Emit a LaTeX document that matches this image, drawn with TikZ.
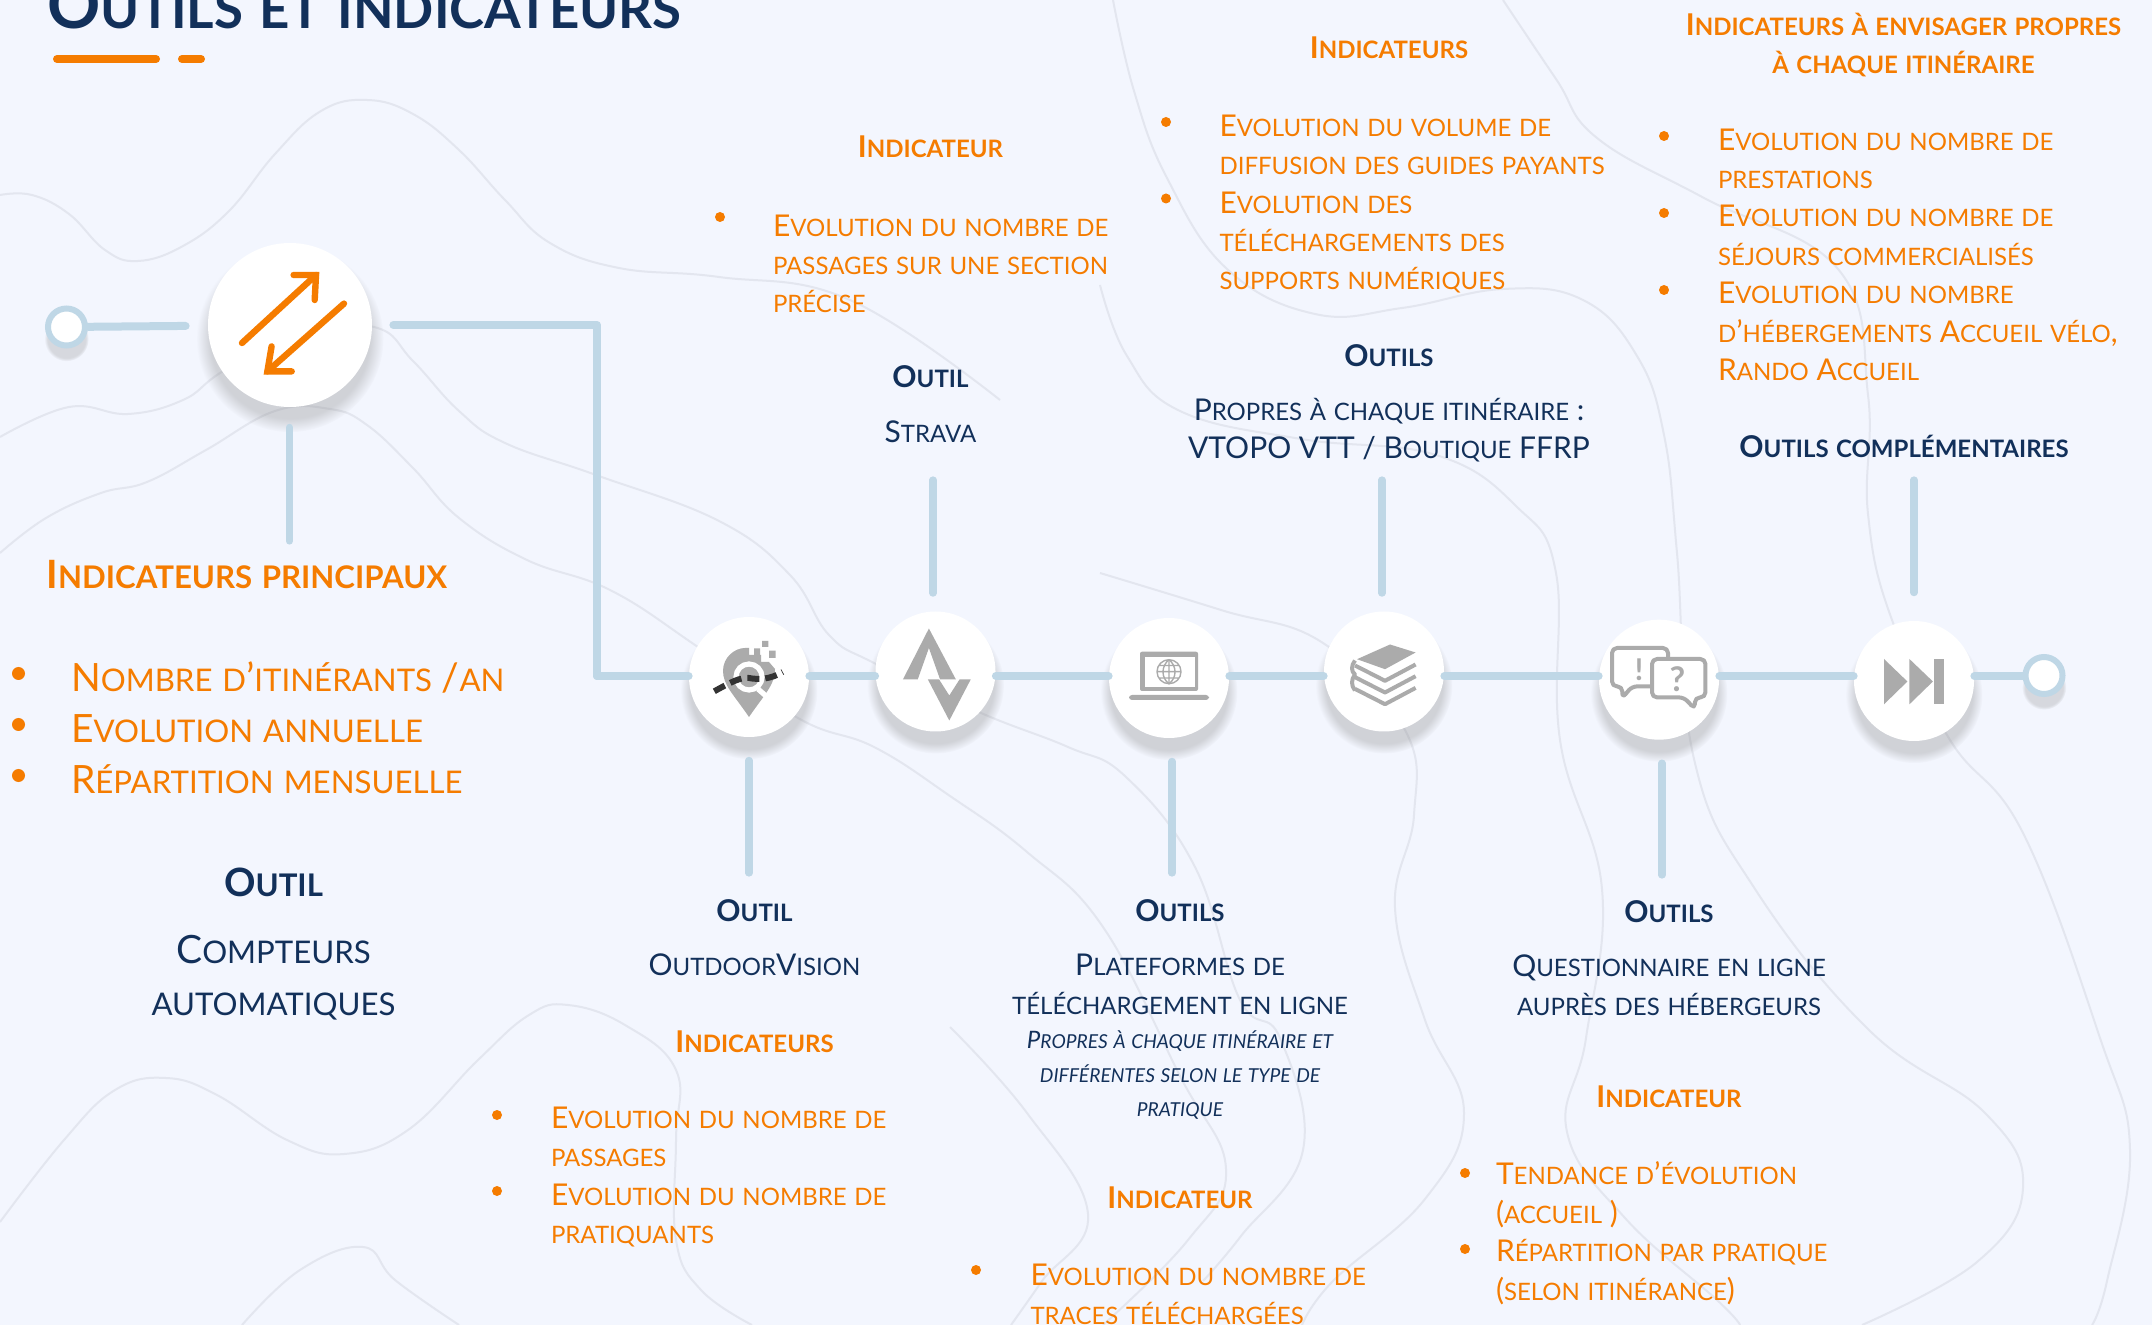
\documentclass[tikz,border=0pt]{standalone}
\usepackage{fontspec}
\setmainfont{Lato}
\usetikzlibrary{shadows}
\definecolor{paper}{HTML}{F3F6FE}
\definecolor{contour}{HTML}{E3E6EF}
\definecolor{tubeblue}{HTML}{BFD7E6}
\definecolor{accent}{HTML}{F57C00}
\definecolor{navy}{HTML}{12305A}
\definecolor{icongray}{HTML}{ABABAB}
\makeatletter
\newcommand\lowsc[1]{{\fontsize{\strip@pt\dimexpr.8\dimexpr\f@size pt\relax\relax}{\f@baselineskip}\selectfont\MakeUppercase{#1}}}
\makeatother
\ExplSyntaxOn
\NewDocumentCommand\smc{m}{
  \tl_set:Nn \l_tmpa_tl {#1}
  \regex_replace_all:nnN {([a-zàâéèêîôûç]+)} {\c{lowsc}\cB\{\1\cE\}} \l_tmpa_tl
  \tl_use:N \l_tmpa_tl
}
\ExplSyntaxOff
\tikzset{
  tube/.style={line width=4pt,tubeblue,line cap=round,line join=round},
  stub/.style={tube,line width=3.6pt},
  relief/.style={contour,line width=1pt,smooth,tension=.7},
  disc/.style={circle,fill=white,inner sep=0,minimum size=60pt,
    circular drop shadow={shadow xshift=0pt,shadow yshift=-6pt,shadow scale=1.14,opacity=.3}},
  ring/.style={circle,fill=white,draw=tubeblue,line width=3pt,inner sep=0,minimum size=18.5pt,
    circular drop shadow={shadow xshift=0pt,shadow yshift=-5pt,shadow scale=1.2,opacity=.25}},
  dot/.style={circle,fill=accent,inner sep=0,minimum size=5pt},
  bigdot/.style={dot,minimum size=6.5pt},
  txt/.style={inner sep=0,outer sep=0},
  list/.style={txt,anchor=base west,align=left,accent,font=\fontsize{15}{19.2}\selectfont},
  bigtitle/.style={txt,anchor=base west,align=left,accent,font=\bfseries\fontsize{19.5}{25.5}\selectfont},
  indic/.style={txt,anchor=base,align=center,accent,font=\bfseries\fontsize{15}{19.2}\selectfont},
  toolhead/.style={txt,anchor=base,align=center,navy,font=\bfseries\fontsize{15}{19.2}\selectfont},
  tooltext/.style={txt,anchor=base,align=center,navy,font=\fontsize{15}{19.2}\selectfont},
  iconfill/.style={fill=icongray,draw=none},
  iconline/.style={draw=icongray,line width=1.5pt,line join=round},
}
\begin{document}
\begin{tikzpicture}[x=0.5pt,y=-0.5pt]
  \fill[paper] (0,0) rectangle (2152,1325);
  \useasboundingbox (0,0) rectangle (2152,1325);
  % relief lines
  \draw[relief] plot coordinates {(0,195) (32,195) (69,214) (105,250) (138,261) (183,246) (229,211) (275,154) (321,111) (367,100) (413,114) (459,150) (505,200) (550,243) (619,268) (719,277) (850,300) (1000,400)};
  \draw[relief] plot coordinates {(0,437) (69,407) (128,414) (183,400) (220,373) (290,330) (374,327) (413,361) (459,411) (505,443) (596,475) (719,521) (790,575) (829,635) (874,663) (981,713) (1068,747) (1126,777) (1195,867) (1240,1000) (1280,1038) (1303,1150) (1241,1236) (1203,1281)};
  \draw[relief] plot coordinates {(0,553) (46,518) (101,493) (147,482) (206,450) (275,411) (330,409) (367,425) (413,468) (459,518) (527,560) (610,590) (695,645) (798,718) (874,747) (950,796) (1027,852) (1103,927) (1180,1076) (1226,1169) (1188,1240) (1103,1325)};
  \draw[relief] plot coordinates {(0,1222) (64,1140) (115,1090) (166,1078) (217,1095) (287,1140) (344,1154) (408,1130) (478,1060) (529,1015) (568,1005) (625,1025) (676,1070) (676,1140) (676,1240) (701,1290) (752,1325)};
  \draw[relief] plot coordinates {(242,1325) (300,1270) (363,1247) (395,1280) (459,1325)};
  \draw[relief] plot coordinates {(1100,573) (1221,610) (1323,643) (1405,730) (1414,815) (1395,908) (1425,1020) (1464,1113) (1425,1199) (1333,1281) (1302,1325)};
  \draw[relief] plot coordinates {(1100,285) (1127,356) (1180,411) (1301,439) (1436,455) (1516,506) (1556,573) (1560,740) (1602,889) (1586,1038) (1567,1132) (1625,1218) (1717,1300) (1740,1325)};
  \draw[relief] plot coordinates {(1113,0) (1134,91) (1167,178) (1227,269) (1315,314) (1402,308) (1503,289) (1583,300) (1637,356) (1664,435) (1677,553) (1694,759) (1755,889) (1870,1031) (1985,1113) (2023,1188) (1977,1262) (1862,1325)};
  \draw[relief] plot coordinates {(1503,0) (1556,79) (1597,138) (1704,198) (1838,269) (1868,395) (1868,514) (1892,620) (1950,740) (2023,833) (2100,1038) (2130,1150) (2107,1281) (2092,1325)};
  \draw[relief] plot coordinates {(950,1027) (1027,1113) (1088,1214) (1042,1281) (1011,1325)};
  % title
  \node[txt,anchor=base west,navy,font=\bfseries\fontsize{33}{33}\selectfont] (title) at (47,29) {\smc{Outils et indicateurs}};
  \coordinate (barA) at (57,59); \coordinate (barB) at (156,59);
  \coordinate (barC) at (182,59); \coordinate (barD) at (201,59);
  \draw[accent,line width=4pt,line cap=round] (barA) -- (barB) (barC) -- (barD);
  % anchors of the connectors
  \coordinate (elbow) at (597,676);
  \coordinate (hubend) at (289.5,541);
  \coordinate (poiend) at (749,873);
  \coordinate (stravaend) at (933,480);
  \coordinate (laptopend) at (1172,873);
  \coordinate (booksend) at (1382,480);
  \coordinate (chatend) at (1662,875);
  \coordinate (nextend) at (1914,480);
  % stations
  \node[ring] (startdot) at (66.5,327) {};
  \node[disc,minimum size=82pt] (hub) at (290,325) {};
  \node[disc] (poi) at (749,677) {};
  \node[disc] (strava) at (935.5,671.5) {};
  \node[disc] (laptop) at (1169,678) {};
  \node[disc] (books) at (1384,671.5) {};
  \node[disc] (chat) at (1659,679.7) {};
  \node[disc] (nextbtn) at (1914,681) {};
  \node[ring] (enddot) at (2044,675.5) {};
  % connectors
  \begin{scope}[on background layer/.style={}]
  \draw[tube,shorten >=11pt] (startdot) -- (hub);
  \draw[tube,shorten <=10.5pt] (hub) -| (elbow);
  \draw[stub,shorten >=10pt] (hubend) -- (hubend |- hub.south);
  \draw[stub,shorten >=11.5pt] (poiend) -- (poiend |- poi.south);
  \draw[stub,shorten >=9pt] (stravaend) -- (stravaend |- strava.north);
  \draw[stub,shorten >=11.5pt] (laptopend) -- (laptopend |- laptop.south);
  \draw[stub,shorten >=9pt] (booksend) -- (booksend |- books.north);
  \draw[stub,shorten >=11.5pt] (chatend) -- (chatend |- chat.south);
  \draw[stub,shorten >=14pt] (nextend) -- (nextend |- nextbtn.north);
  \draw[tube] (elbow) -- (poi.west |- elbow);
  \draw[tube] (poi.east |- elbow) -- (strava.west |- elbow);
  \draw[tube] (strava.east |- elbow) -- (laptop.west |- elbow);
  \draw[tube] (laptop.east |- elbow) -- (books.west |- elbow);
  \draw[tube] (books.east |- elbow) -- (chat.west |- elbow);
  \draw[tube] (chat.east |- elbow) -- (nextbtn.west |- elbow);
  \draw[tube] (nextbtn.east |- elbow) -- (enddot.west |- elbow);
  \end{scope}
  % hub arrows
  \begin{scope}[shift={(hub)},accent,line width=3.2pt,line cap=round,line join=miter]
    \draw (-48,18) -- (26,-50);
    \draw (3.6,-50) -- (26,-50) -- (24.7,-25);
    \draw (54,-21.4) -- (-22.6,46.4);
    \draw (-18.4,21.4) -- (-22.6,46.4) -- (1.7,46.4);
  \end{scope}
  % location pin
  \begin{scope}[shift={(poi)}]
    \fill[icongray] (0,40) .. controls (-15,18) and (-26,8) .. (-26,-6) .. controls (-26,-20) and (-14,-29) .. (-4,-29) -- (0,-29) -- (0,-22) -- (12,-22) -- (12,-15) -- (20,-15) -- (26,-8) .. controls (26,8) and (15,18) .. (0,40) -- cycle;
    \fill[icongray] (13,-36) rectangle (19.4,-30) (5,-28.7) rectangle (11,-22) (20,-26.3) rectangle (26.5,-19);
    \draw[white,line width=2.6pt,fill=icongray] (0,0) circle (13);
    \draw[white,line width=2.6pt] (9,12) -- (18.5,20.3);
    \draw[black!80,line width=3pt,dash pattern=on 6pt off 3pt] (-34.7,14.3) .. controls (-18,5) and (-8,0) .. (0,1) .. controls (10,3) and (22,2) .. (33.7,-5);
  \end{scope}
  % strava logo
  \begin{scope}[shift={(strava)}]
    \fill[icongray] (-32.6,8) -- (-6.6,-43) -- (20.4,8) -- (4.6,8) -- (-6.6,-23.5) -- (-17.8,8) -- cycle;
    \fill[icongray] (-7.6,8) -- (3.6,8) -- (13.8,24) -- (24,8) -- (35.2,8) -- (13.8,49) -- cycle;
  \end{scope}
  % laptop
  \begin{scope}[shift={(laptop)}]
    \fill[icongray,rounded corners=1pt] (-29,-26.3) rectangle (29,13);
    \fill[white] (-24.5,-21.3) rectangle (25.5,8.7);
    \fill[icongray,rounded corners=1.5pt] (-40,17) -- (40,17) -- (40,22) -- (-40,22) -- cycle;
    \draw[icongray,line width=.7pt] (0,-6.3) circle (12) (0,-18.3) -- (0,5.7) (-12,-6.3) -- (12,-6.3) (-10,-12.5) -- (10,-12.5) (-10,0) -- (10,0);
    \draw[icongray,line width=.7pt] (0,-18.3) .. controls (-8,-12) and (-8,0) .. (0,5.7) .. controls (8,0) and (8,-12) .. (0,-18.3);
  \end{scope}
  % books
  \begin{scope}[shift={(books)}]
    \foreach \dy in {0,11.7,23.4}
      \draw[iconline,line width=2pt] (-29,-6+\dy) -- (1,9.3+\dy) -- (31.6,-7+\dy);
    \draw[iconline,line width=2pt] (-29,-11) .. controls (-33,-6) and (-33,0) .. (-29,3) .. controls (-33,8) and (-33,14) .. (-29,19);
    \fill[icongray] (6,-27) -- (31.6,-19) -- (1,-2.3) -- (-27,-12.3) -- cycle;
  \end{scope}
  % speech bubbles
  \begin{scope}[shift={(chat)}]
    \draw[iconline,line width=2pt,rounded corners=2.5pt,fill=white] (-47,-31.7) -- (9,-31.7) -- (9,6.7) -- (-27,6.7) -- (-36.7,18.3) -- (-36.7,6.7) -- (-47,6.7) -- cycle;
    \draw[iconline,line width=2pt,rounded corners=2.5pt,fill=white] (-7,-20.7) -- (46.4,-20.7) -- (46.4,17.7) -- (36,17.7) -- (35.7,29.3) -- (25,17.7) -- (-7,17.7) -- cycle;
    \node[txt,icongray,font=\bfseries\fontsize{15}{15}\selectfont] (bang) at (-20,-10) {!};
    \node[txt,icongray,font=\bfseries\fontsize{17}{17}\selectfont] (quest) at (18.4,-1) {?};
  \end{scope}
  % skip button
  \begin{scope}[shift={(nextbtn)}]
    \fill[icongray] (-30,-22) -- (-6.6,0.5) -- (-30,23.3) -- cycle;
    \fill[icongray] (-4.6,-22) -- (18.9,0.5) -- (-4.6,23.3) -- cycle;
    \fill[icongray] (20.4,-22) rectangle (30,23.3);
  \end{scope}
  % bullets
  \foreach \p [count=\i] in {(18.5,673.5),(18.5,724.5),(18.5,775.5)}
    \node[bigdot] (main\i) at \p {};
  \foreach \p [count=\i] in {(497,1115),(497,1191),(720,217),(976,1270),(1166,122),(1166,198.5),(1465,1173),(1465,1249),(1664,136),(1664,213),(1664,290)}
    \node[dot] (item\i) at \p {};
  % left column
  \node[bigtitle] (mainhead) at (46.5,588.5) {\smc{Indicateurs principaux}};
  \node[list,font=\fontsize{19.5}{25.5}\selectfont] (mainlist) at (71,793.5) {\smc{Nombre d’itinérants /an}\\\smc{Evolution annuelle}\\\smc{Répartition mensuelle}};
  \node[toolhead,font=\bfseries\fontsize{19.5}{25.5}\selectfont] (mainhead2) at (273.5,896) {\smc{Outil}};
  \node[tooltext,font=\fontsize{19.5}{26}\selectfont] (counters) at (273.5,1015) {\smc{Compteurs}\\\smc{automatiques}};
  % below the line
  \node[toolhead] (poihead) at (754.5,921) {\smc{Outil}};
  \node[tooltext] (poitext) at (754.5,975) {\smc{OutdoorVision}};
  \node[indic] (poiind) at (754.5,1052) {\smc{Indicateurs}};
  \node[list] (poilist) at (551,1243.5) {\smc{Evolution du nombre de}\\\smc{passages}\\\smc{Evolution du nombre de}\\\smc{pratiquants}};
  \node[toolhead] (laphead) at (1180,921) {\smc{Outils}};
  \node[tooltext] (laptext) at (1180,1014) {\smc{Plateformes de}\\\smc{téléchargement en ligne}};
  \node[tooltext,font=\itshape\fontsize{12}{17}\selectfont] (lapnote) at (1180,1116) {\smc{Propres à chaque itinéraire et}\\\smc{différentes selon le type de}\\\smc{pratique}};
  \node[indic] (lapind) at (1180,1208) {\smc{Indicateur}};
  \node[list] (laplist) at (1030.5,1324) {\smc{Evolution du nombre de}\\\smc{traces téléchargées}};
  \node[toolhead] (chathead) at (1669,922) {\smc{Outils}};
  \node[tooltext] (chattext) at (1669,1015) {\smc{Questionnaire en ligne}\\\smc{auprès des hébergeurs}};
  \node[indic] (chatind) at (1669,1107.5) {\smc{Indicateur}};
  \node[list] (chatlist) at (1496,1300) {\smc{Tendance d’évolution}\\\smc{(accueil )}\\\smc{Répartition par pratique}\\\smc{(selon itinérance)}};
  % above the line
  \node[indic] (straind) at (930.5,158) {\smc{Indicateur}};
  \node[list] (stralist) at (773,313) {\smc{Evolution du nombre de}\\\smc{passages sur une section}\\\smc{précise}};
  \node[toolhead] (strahead) at (930.5,388) {\smc{Outil}};
  \node[tooltext] (stratext) at (930.5,443) {\smc{Strava}};
  \node[indic] (bookind) at (1389,59) {\smc{Indicateurs}};
  \node[list] (booklist) at (1219.5,290) {\smc{Evolution du volume de}\\\smc{diffusion des guides payants}\\\smc{Evolution des}\\\smc{téléchargements des}\\\smc{supports numériques}};
  \node[toolhead] (bookhead) at (1389,367) {\smc{Outils}};
  \node[tooltext] (booktext) at (1389,459) {\smc{Propres à chaque itinéraire :}\\\smc{VTOPO VTT / Boutique FFRP}};
  \node[indic] (nextind) at (1903.5,74) {\smc{Indicateurs à envisager propres}\\\smc{à chaque itinéraire}};
  \node[list] (nextlist) at (1718,380.5) {\smc{Evolution du nombre de}\\\smc{prestations}\\\smc{Evolution du nombre de}\\\smc{séjours commercialisés}\\\smc{Evolution du nombre}\\\smc{d’hébergements Accueil vélo,}\\\smc{Rando Accueil}};
  \node[toolhead] (nexthead) at (1904,457.5) {\smc{Outils complémentaires}};
\end{tikzpicture}
\end{document}
